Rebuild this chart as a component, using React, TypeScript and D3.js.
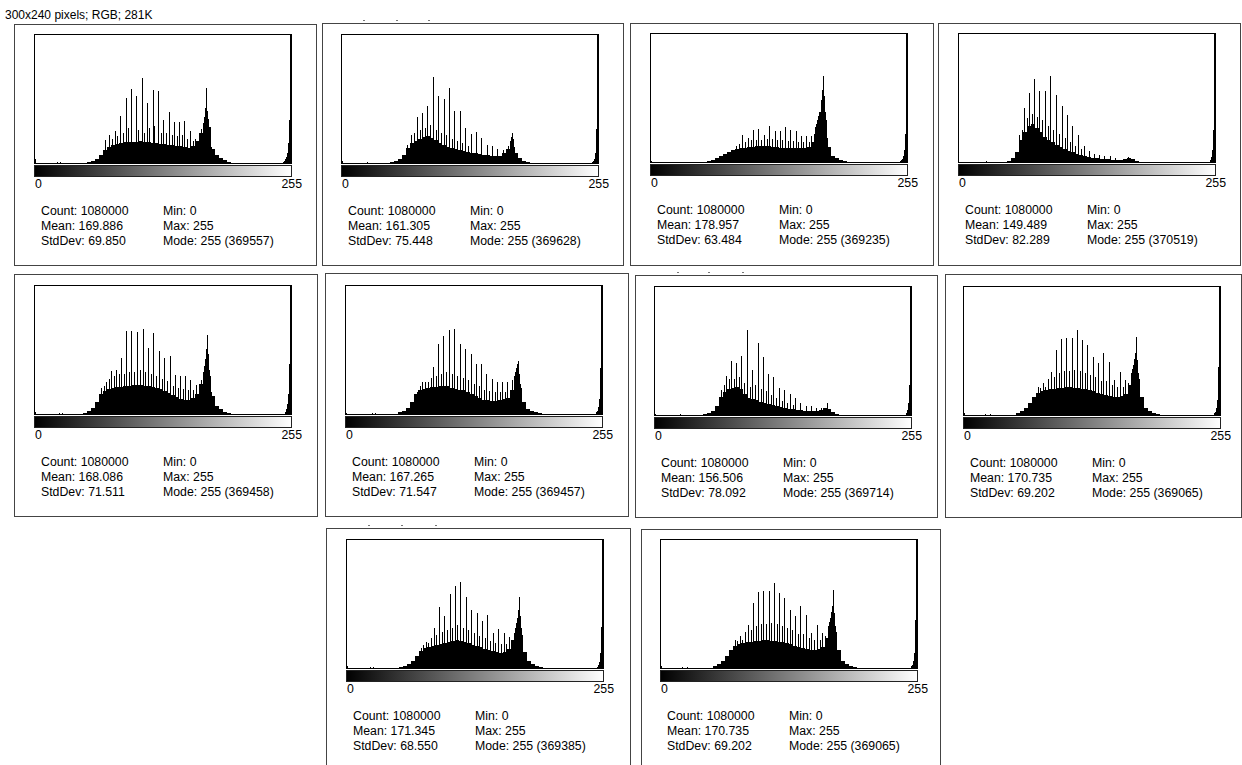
import React, { useEffect, useRef } from "react";
import * as d3 from "d3";

const title = "300x240 pixels; RGB; 281K";
const axisLabels = ["0", "255"];
const statNames = ["Count", "Mean", "StdDev", "Min", "Max", "Mode"];

// heights are in plot pixels (the plot is 128 px tall); base = one value per 4 bins
const base1 = [0,0,0,0,0,0,0,0,0,0,0,0,0,1,2,4,8,13,16,18,19,20,21,21,21,21,22,21,21,20,20,19,19,18,18,17,17,16,15,17,22,30,40,36,14,8,5,3,1,0,0,0,0,0,0,0,0,0,0,0,0,0,0,0];
const spikes1 = [[0,4],[22,1],[25,1],[74,28],[80,32],[85,47],[91,65],[96,74],[101,67],[107,85],[112,60],[118,73],[123,72],[128,43],[134,51],[139,41],[144,41],[149,42],[155,32],[160,24],[164,30],[166,34],[168,40],[169,46],[170,55],[171,75],[172,52],[173,44],[174,32],[175,22],[176,16],[70,23],[77,24],[82,27],[88,30],[93,35],[103,33],[109,30],[114,35],[119,37],[126,30],[131,30],[137,28],[142,27],[147,28],[152,24],[158,22],[248,1],[249,2],[250,4],[251,6],[252,10],[253,20],[254,43],[255,128]];
const stats1 = ["1080000", "169.886", "69.850", "0", "255", "255 (369557)"];

const base2 = [0,0,0,0,0,0,0,0,0,0,0,0,1,2,4,8,15,20,22,24,26,27,25,23,20,18,16,15,14,13,12,11,10,10,9,8,8,7,7,7,10,14,18,10,5,2,1,0,0,0,0,0,0,0,0,0,0,0,0,0,0,0,0,0];
const spikes2 = [[0,2],[25,1],[65,18],[69,28],[75,46],[80,50],[85,57],[91,86],[96,67],[102,64],[107,75],[112,52],[118,52],[123,35],[129,29],[134,31],[139,25],[145,18],[150,17],[155,14],[161,13],[166,17],[168,22],[169,26],[170,30],[171,24],[172,16],[72,30],[78,33],[83,35],[88,38],[94,33],[99,30],[104,28],[110,24],[115,22],[120,20],[126,17],[250,1],[251,2],[252,4],[253,10],[254,34],[255,128]];
const stats2 = ["1080000", "161.305", "75.448", "0", "255", "255 (369628)"];

const base3 = [0,0,0,0,0,0,0,0,0,0,0,0,0,0,1,2,4,6,8,10,12,13,14,14,15,15,16,16,16,16,15,15,14,14,14,14,14,14,14,15,20,35,50,42,15,6,4,2,1,0,0,0,0,0,0,0,0,0,0,0,0,0,0,0];
const spikes3 = [[0,1],[85,16],[91,27],[97,24],[102,32],[107,33],[113,27],[118,36],[124,31],[129,31],[134,35],[139,32],[145,31],[150,26],[155,26],[160,26],[163,28],[165,38],[166,42],[167,46],[169,50],[170,62],[171,72],[172,86],[173,66],[174,50],[175,35],[176,24],[88,18],[94,20],[100,22],[105,22],[110,22],[116,23],[121,23],[126,22],[131,22],[137,21],[142,21],[147,20],[152,20],[158,20],[249,1],[250,2],[251,3],[252,6],[253,12],[254,28],[255,128]];
const stats3 = ["1080000", "178.957", "63.484", "0", "255", "255 (369235)"];

const base4 = [0,0,0,0,0,0,0,0,0,0,0,0,1,4,10,22,30,36,38,34,30,25,22,20,17,15,13,11,10,8,7,6,5,4,4,3,3,3,2,2,2,3,4,3,1,0,0,0,0,0,0,0,0,0,0,0,0,0,0,0,0,0,0,0];
const spikes4 = [[27,1],[60,27],[65,54],[70,69],[75,83],[80,71],[86,71],[91,86],[97,67],[103,56],[108,47],[113,36],[119,27],[125,16],[130,11],[135,8],[140,7],[145,6],[151,6],[156,4],[169,5],[63,32],[68,44],[73,48],[78,45],[83,42],[89,36],[94,32],[100,28],[106,24],[111,20],[116,16],[122,13],[251,2],[252,5],[253,12],[254,32],[255,128]];
const stats4 = ["1080000", "149.489", "82.289", "0", "255", "255 (370519)"];

const base5 = [0,0,0,0,0,0,0,0,0,0,0,0,1,3,6,12,20,23,25,26,27,27,28,28,29,29,29,28,28,27,26,25,23,21,19,17,15,14,14,16,20,30,42,38,18,8,5,2,1,0,0,0,0,0,0,0,0,0,0,0,0,0,0,0];
const spikes5 = [[0,2],[24,1],[27,1],[60,11],[66,26],[71,32],[76,43],[81,44],[86,56],[91,83],[96,83],[102,82],[108,85],[113,66],[118,81],[124,63],[129,56],[135,58],[140,39],[145,38],[150,38],[155,34],[161,29],[166,34],[168,42],[169,48],[170,55],[171,65],[172,79],[173,60],[174,44],[175,30],[176,22],[69,28],[74,35],[79,38],[84,40],[89,40],[94,42],[99,42],[105,44],[110,42],[116,40],[121,38],[127,35],[132,33],[138,28],[143,26],[148,25],[153,24],[158,24],[250,2],[251,5],[252,10],[253,20],[254,50],[255,128]];
const stats5 = ["1080000", "168.086", "71.511", "0", "255", "255 (369458)"];

const base6 = [0,0,0,0,0,0,0,0,0,0,0,0,0,2,3,6,12,20,24,25,26,27,27,28,28,28,26,25,24,24,22,20,18,16,14,14,13,13,14,15,16,24,33,26,12,5,3,2,1,0,0,0,0,0,0,0,0,0,0,0,0,0,0,0];
const spikes6 = [[0,1],[26,1],[29,1],[71,22],[76,32],[82,32],[87,47],[92,70],[97,78],[103,84],[108,85],[114,70],[119,65],[125,60],[130,50],[135,50],[140,40],[146,35],[151,32],[156,32],[161,32],[166,34],[168,38],[169,42],[170,46],[171,50],[172,53],[173,40],[174,30],[74,28],[79,32],[85,36],[90,38],[95,40],[100,42],[106,40],[111,38],[117,36],[122,34],[128,30],[133,28],[138,24],[143,23],[149,22],[154,22],[159,22],[250,2],[251,3],[252,7],[253,15],[254,46],[255,128]];
const stats6 = ["1080000", "167.265", "71.547", "0", "255", "255 (369457)"];

const base7 = [0,0,0,0,0,0,0,0,0,0,0,0,1,2,4,9,18,23,26,27,28,26,21,17,16,15,13,12,11,10,9,8,7,6,6,5,5,4,4,4,4,5,7,6,3,1,0,0,0,0,0,0,0,0,0,0,0,0,0,0,0,0,0,0];
const spikes7 = [[0,1],[25,1],[60,9],[66,25],[71,39],[76,54],[81,52],[86,59],[92,85],[97,45],[103,72],[108,58],[113,41],[118,38],[124,27],[129,25],[135,21],[140,17],[145,12],[151,9],[156,9],[161,7],[166,7],[172,12],[69,30],[74,36],[79,36],[84,38],[89,32],[95,28],[100,30],[106,26],[111,24],[116,20],[121,17],[127,14],[132,12],[138,10],[251,2],[252,5],[253,12],[254,30],[255,128]];
const stats7 = ["1080000", "156.506", "78.092", "0", "255", "255 (369714)"];

const base8 = [0,0,0,0,0,0,0,0,0,0,0,0,0,2,4,7,12,18,22,24,25,26,26,27,27,28,28,27,27,26,26,25,24,22,21,20,19,18,18,19,21,30,42,36,18,7,4,2,1,0,0,0,0,0,0,0,0,0,0,0,0,0,0,0];
const spikes8 = [[0,2],[21,1],[26,1],[71,17],[76,27],[81,28],[87,43],[92,65],[97,76],[102,77],[108,77],[113,85],[118,75],[123,70],[129,58],[134,52],[139,62],[145,53],[150,35],[156,43],[161,35],[167,42],[168,46],[169,50],[170,56],[171,62],[172,78],[173,55],[174,42],[175,28],[74,28],[79,32],[84,36],[90,38],[95,42],[100,44],[105,44],[110,45],[116,44],[121,42],[126,40],[131,38],[137,34],[142,34],[148,30],[153,28],[159,28],[164,32],[250,2],[251,3],[252,7],[253,15],[254,48],[255,128]];
const stats8 = ["1080000", "170.735", "69.202", "0", "255", "255 (369065)"];

const base9 = [0,0,0,0,0,0,0,0,0,0,0,0,0,1,2,4,7,12,17,20,21,22,23,24,25,26,27,28,27,26,25,23,22,21,19,18,17,16,15,16,19,28,40,33,16,7,4,2,1,0,0,0,0,0,0,0,0,0,0,0,0,0,0,0];
const spikes9 = [[0,2],[23,1],[26,1],[76,23],[81,25],[87,40],[92,61],[97,52],[103,74],[108,82],[113,86],[119,71],[124,58],[130,55],[135,47],[140,53],[146,35],[151,39],[157,35],[162,31],[167,35],[168,40],[169,45],[170,50],[171,58],[172,71],[173,52],[174,40],[175,28],[74,20],[79,26],[84,30],[89,33],[95,36],[100,38],[105,40],[110,43],[116,40],[121,38],[127,35],[132,32],[138,30],[143,27],[148,25],[154,24],[159,24],[164,26],[250,1],[251,3],[252,6],[253,15],[254,41],[255,128]];
const stats9 = ["1080000", "171.345", "68.550", "0", "255", "255 (369385)"];

const histograms = [
  { base: base1, spikes: spikes1, stats: stats1 },
  { base: base2, spikes: spikes2, stats: stats2 },
  { base: base3, spikes: spikes3, stats: stats3 },
  { base: base4, spikes: spikes4, stats: stats4 },
  { base: base5, spikes: spikes5, stats: stats5 },
  { base: base6, spikes: spikes6, stats: stats6 },
  { base: base7, spikes: spikes7, stats: stats7 },
  { base: base8, spikes: spikes8, stats: stats8 },
  { base: base9, spikes: spikes9, stats: stats9 },
  { base: base8, spikes: spikes8, stats: stats8 },
];

// window frames (fx, fy, fw, fh), plot left (px) and baseline y
const layout = [
  { fx: 14, fy: 24, fw: 302, fh: 241, px: 35, by: 163 },
  { fx: 322, fy: 23, fw: 301, fh: 242, px: 342, by: 163 },
  { fx: 630, fy: 23, fw: 303, fh: 242, px: 651, by: 162 },
  { fx: 938, fy: 23, fw: 302, fh: 242, px: 959, by: 162 },
  { fx: 14, fy: 274, fw: 303, fh: 242, px: 35, by: 414 },
  { fx: 325, fy: 273, fw: 303, fh: 243, px: 346, by: 414 },
  { fx: 635, fy: 275, fw: 302, fh: 242, px: 655, by: 415 },
  { fx: 945, fy: 274, fw: 296, fh: 243, px: 964, by: 415 },
  { fx: 326, fy: 528, fw: 304, fh: 240, px: 347, by: 668 },
  { fx: 641, fy: 529, fw: 299, fh: 240, px: 661, by: 668 },
];

// stray marks above some windows
const marks = [[363, 20], [396, 20], [428, 20], [677, 272], [708, 272], [742, 272], [368, 525], [401, 525], [435, 525]];

const font = "'Liberation Sans', Arial, sans-serif";

export default function App() {
  const ref = useRef<SVGSVGElement>(null);

  useEffect(() => {
    const svg = d3.select(ref.current);
    svg.selectAll("*").remove();

    const defs = svg.append("defs");
    const grad = defs.append("linearGradient").attr("id", "lut").attr("x1", "0").attr("x2", "1").attr("y1", "0").attr("y2", "0");
    grad.append("stop").attr("offset", "0").attr("stop-color", "#000");
    grad.append("stop").attr("offset", "1").attr("stop-color", "#fff");

    svg.append("rect").attr("width", 1242).attr("height", 765).attr("fill", "#fff");

    svg
      .append("text")
      .attr("x", 5)
      .attr("y", 19)
      .style("font-family", font)
      .style("font-size", "12px")
      .attr("fill", "#000")
      .text(title);

    svg
      .selectAll(".mark")
      .data(marks)
      .enter()
      .append("rect")
      .attr("class", "mark")
      .attr("x", d => d[0])
      .attr("y", d => d[1])
      .attr("width", 2)
      .attr("height", 1)
      .attr("fill", "#777");

    histograms.forEach((h, i) => {
      const L = layout[i];
      const g = svg.append("g").attr("shape-rendering", "crispEdges");

      // window border
      g.append("rect")
        .attr("x", L.fx + 0.5)
        .attr("y", L.fy + 0.5)
        .attr("width", L.fw)
        .attr("height", L.fh)
        .attr("fill", "none")
        .attr("stroke", "#444")
        .attr("stroke-width", 1.3);

      const x = d3.scaleLinear().domain([0, 256]).range([L.px, L.px + 256]);
      const y = d3.scaleLinear().domain([0, 128]).range([L.by, L.by - 128]).clamp(true);

      // dense body of the histogram, 4 bins per step
      g.selectAll(".base")
        .data(h.base)
        .enter()
        .append("rect")
        .attr("x", (d, k) => x(k * 4))
        .attr("width", x(4) - x(0))
        .attr("y", d => y(d))
        .attr("height", d => L.by - y(d))
        .attr("fill", "#000");

      // single-bin peaks
      g.selectAll(".spike")
        .data(h.spikes)
        .enter()
        .append("rect")
        .attr("x", d => x(d[0]))
        .attr("width", x(1) - x(0))
        .attr("y", d => y(d[1]))
        .attr("height", d => L.by - y(d[1]))
        .attr("fill", "#000");

      // plot frame
      g.append("rect")
        .attr("x", x(0) - 0.5)
        .attr("y", y(128) - 0.5)
        .attr("width", 257)
        .attr("height", 129)
        .attr("fill", "none")
        .attr("stroke", "#000");

      // grey ramp
      g.append("rect")
        .attr("x", x(0) - 0.5)
        .attr("y", L.by + 2.5)
        .attr("width", 257)
        .attr("height", 11)
        .attr("fill", "url(#lut)")
        .attr("stroke", "#222");

      g.append("text")
        .attr("x", x(0))
        .attr("y", L.by + 25)
        .style("font-family", font)
        .style("font-size", "12.3px")
        .text(axisLabels[0]);
      g.append("text")
        .attr("x", x(256) + 11)
        .attr("y", L.by + 25)
        .attr("text-anchor", "end")
        .style("font-family", font)
        .style("font-size", "12.3px")
        .text(axisLabels[1]);

      h.stats.forEach((v, k) => {
        g.append("text")
          .attr("x", k < 3 ? x(0) + 6 : x(0) + 128)
          .attr("y", L.by + 52 + (k % 3) * 15)
          .style("font-family", font)
          .style("font-size", "12.3px")
          .attr("fill", "#000")
          .text(`${statNames[k]}: ${v}`);
      });
    });
  }, []);

  return (
    <svg
      ref={ref}
      width={1242}
      height={765}
      style={{ position: "absolute", left: 0, top: 0, display: "block" }}
    />
  );
}
